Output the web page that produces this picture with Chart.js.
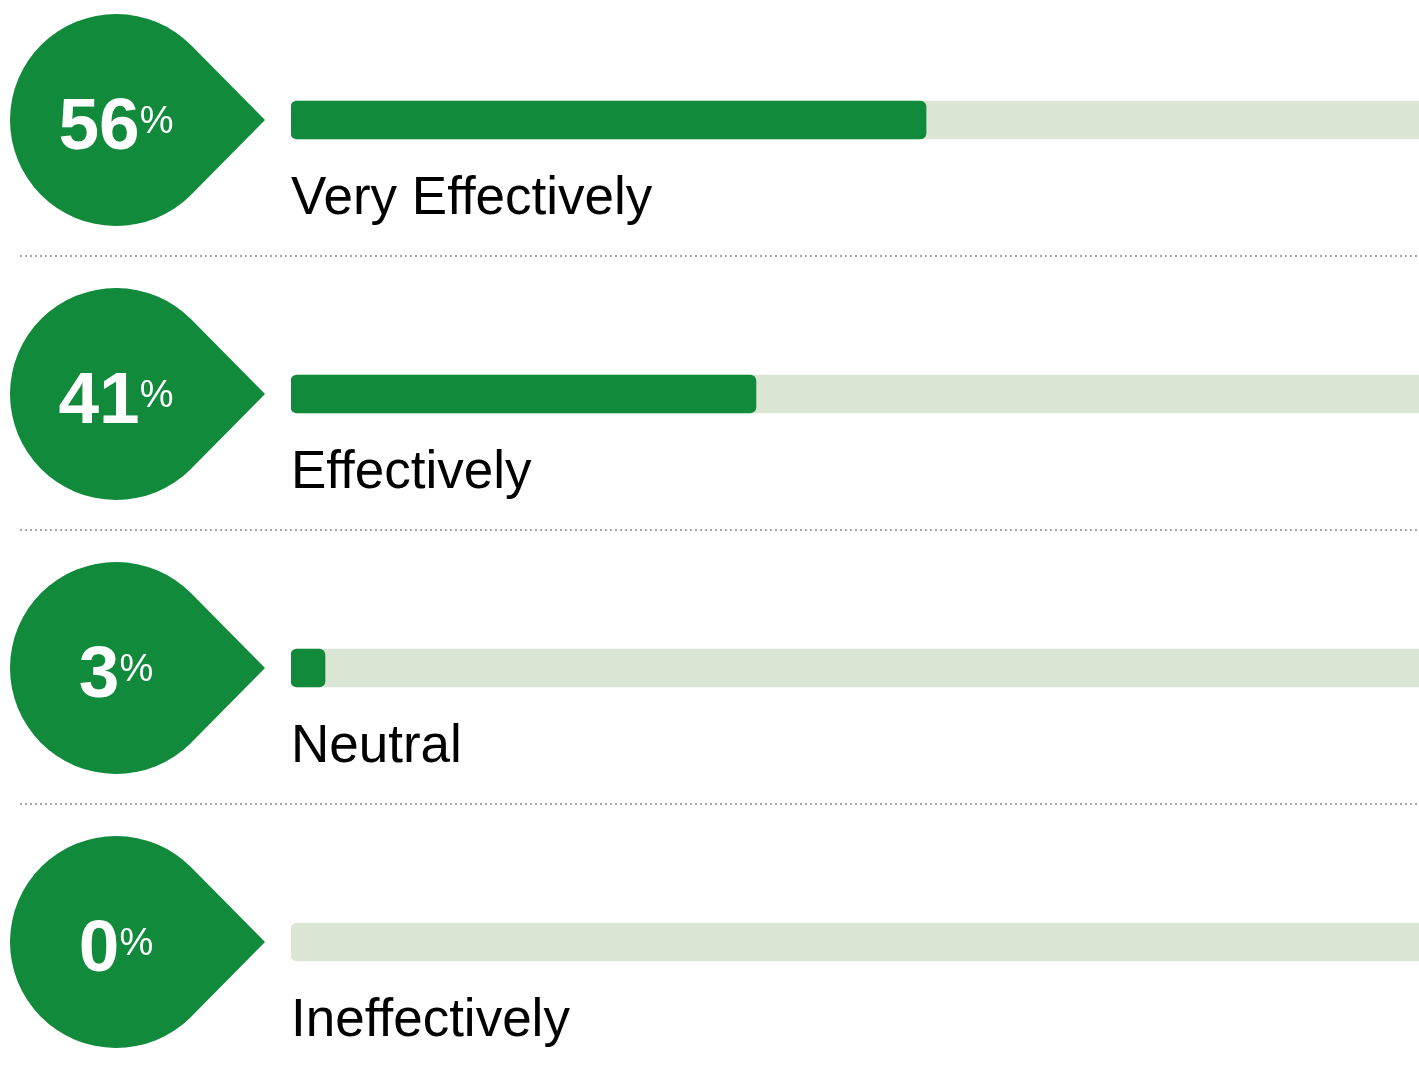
<!DOCTYPE html>
<html>
<head>
<meta charset="utf-8">
<script src="https://cdn.jsdelivr.net/npm/chart.js@4/dist/chart.umd.min.js"></script>
<style>
  html, body { margin: 0; padding: 0; background: #fff; overflow: hidden; width: 1419px; height: 1088px; }
  #wrap { position: absolute; left: 0; top: -17px; width: 1425px; height: 1105px; }
</style>
</head>
<body>
<div id="wrap"><canvas id="c" width="1425" height="1105"></canvas></div>
<script>
'use strict';

// ── data ──────────────────────────────────────────────────────────────────────
const categories = ['Very Effectively', 'Effectively', 'Neutral', 'Ineffectively'];
const shares = [56, 41, 3, 0];
const trackValues = [100, 100, 100, 100];

const GREEN = '#128a3b';
const TRACK = '#dbe6d5';
const FONT = 'Arial, "Liberation Sans", Helvetica, sans-serif';

// drop markers, % text, labels and dotted separators
const decorPlugin = {
  id: 'decor',
  afterDatasetsDraw(chart) {
    const { ctx, chartArea, scales: { y } } = chart;
    const cx = 116, r = 106, tipX = 265;

    categories.forEach((label, i) => {
      const cy = y.getPixelForValue(i);

      // teardrop pointing right
      const th = Math.acos(r / (tipX - cx));
      ctx.save();
      ctx.fillStyle = GREEN;
      ctx.beginPath();
      ctx.moveTo(tipX, cy);
      ctx.lineTo(cx + r * Math.cos(th), cy - r * Math.sin(th));
      ctx.arc(cx, cy, r, -th, th, true);
      ctx.closePath();
      ctx.fill();

      // percent
      const num = String(shares[i]);
      ctx.font = 'bold 73px ' + FONT;
      const wNum = ctx.measureText(num).width;
      ctx.font = '38px ' + FONT;
      const wPct = ctx.measureText('%').width;
      const x0 = cx - (wNum + wPct) / 2;
      ctx.fillStyle = '#ffffff';
      ctx.textBaseline = 'alphabetic';
      ctx.textAlign = 'left';
      ctx.font = 'bold 73px ' + FONT;
      ctx.fillText(num, x0, cy + 29);
      ctx.font = '38px ' + FONT;
      ctx.fillText('%', x0 + wNum, cy + 13);

      // category label
      ctx.fillStyle = '#000000';
      ctx.font = '53px ' + FONT;
      ctx.fillText(label, chartArea.left, cy + 94);

      // dotted separator
      if (i < categories.length - 1) {
        ctx.strokeStyle = '#a9a9a9';
        ctx.lineWidth = 2;
        ctx.setLineDash([2, 3]);
        ctx.beginPath();
        ctx.moveTo(20, cy + 136);
        ctx.lineTo(1419, cy + 136);
        ctx.stroke();
      }
      ctx.restore();
    });
  }
};

new Chart(document.getElementById('c'), {
  type: 'bar',
  data: {
    labels: categories,
    datasets: [
      {
        data: shares,
        backgroundColor: c => (c.raw > 0 ? GREEN : 'rgba(0,0,0,0)'),
        barThickness: 38,
        borderRadius: 6,
        borderSkipped: false,
        grouped: false,
        order: 0,
      },
      {
        data: trackValues,
        backgroundColor: TRACK,
        barThickness: 38,
        borderRadius: 6,
        borderSkipped: false,
        grouped: false,
        order: 1,
      }
    ]
  },
  options: {
    indexAxis: 'y',
    responsive: false,
    devicePixelRatio: 1,
    animation: false,
    layout: { padding: { left: 291, right: 0, top: 0, bottom: 9 } },
    plugins: {
      legend: { display: false },
      tooltip: { enabled: false },
    },
    scales: {
      x: { min: 0, max: 100, display: false },
      y: { display: false, offset: true },
    },
  },
  plugins: [decorPlugin],
});
</script>
</body>
</html>
